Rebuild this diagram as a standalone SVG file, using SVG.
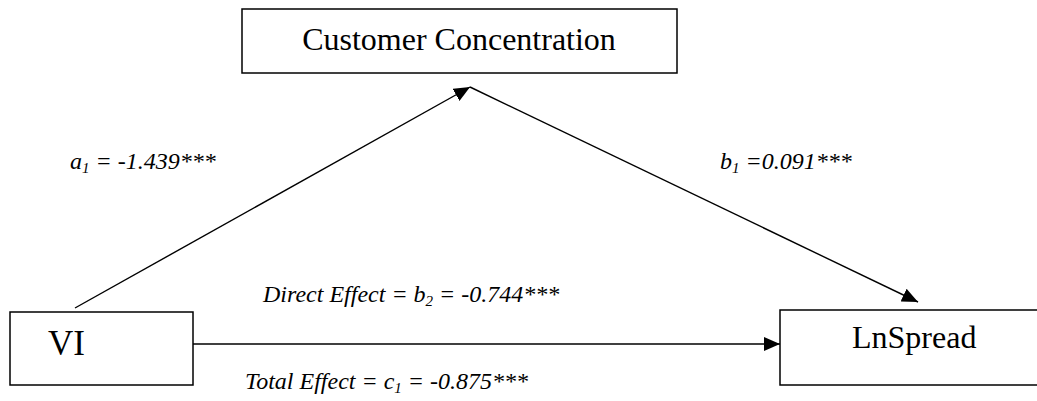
<svg xmlns="http://www.w3.org/2000/svg" width="1037" height="401" viewBox="0 0 1037 401">
<style>
.box{fill:#fff;stroke:#000;stroke-width:1.5}
.node{font-family:"Liberation Serif","Times New Roman",serif;font-size:32px;fill:#000}
.lbl{font-family:"Liberation Serif","Times New Roman",serif;font-size:24px;font-style:italic;fill:#000}
.sub{font-size:15px}
.edge{stroke:#000;stroke-width:1.4;fill:none}
</style>
<defs>
<marker id="arr" viewBox="0 0 16 14" refX="16" refY="7" markerWidth="16" markerHeight="14" markerUnits="userSpaceOnUse" orient="auto">
<path d="M0,0 L16,7 L0,14 Z" fill="#000"/>
</marker>
</defs>
<g id="connectors">
<line class="edge" x1="75" y1="308" x2="470" y2="87" marker-end="url(#arr)"/>
<line class="edge" x1="470" y1="87" x2="918" y2="302" marker-end="url(#arr)"/>
<line class="edge" x1="193" y1="344" x2="780" y2="344" marker-end="url(#arr)"/>
</g>
<g id="node-cc">
<rect class="box" x="242" y="9" width="435" height="64"/>
<text class="node" x="459" y="50" text-anchor="middle">Customer Concentration</text>
</g>
<g id="node-vi">
<rect class="box" x="10" y="312" width="183" height="73"/>
<text class="node" x="48" y="355" style="font-size:35px">VI</text>
</g>
<g id="node-lnspread">
<rect class="box" x="780" y="310" width="270" height="75"/>
<text class="node" x="852" y="348">LnSpread</text>
</g>
<g id="labels">
<text class="lbl" x="70" y="169">a<tspan class="sub" dy="4">1</tspan><tspan dy="-4"> = -1.439***</tspan></text>
<text class="lbl" x="720" y="169">b<tspan class="sub" dy="4">1</tspan><tspan dy="-4"> =0.091***</tspan></text>
<text class="lbl" x="263" y="302">Direct Effect = b<tspan class="sub" dy="4">2</tspan><tspan dy="-4"> = -0.744***</tspan></text>
<text class="lbl" x="245" y="389">Total Effect = c<tspan class="sub" dy="4">1</tspan><tspan dy="-4"> = -0.875***</tspan></text>
</g>
</svg>
